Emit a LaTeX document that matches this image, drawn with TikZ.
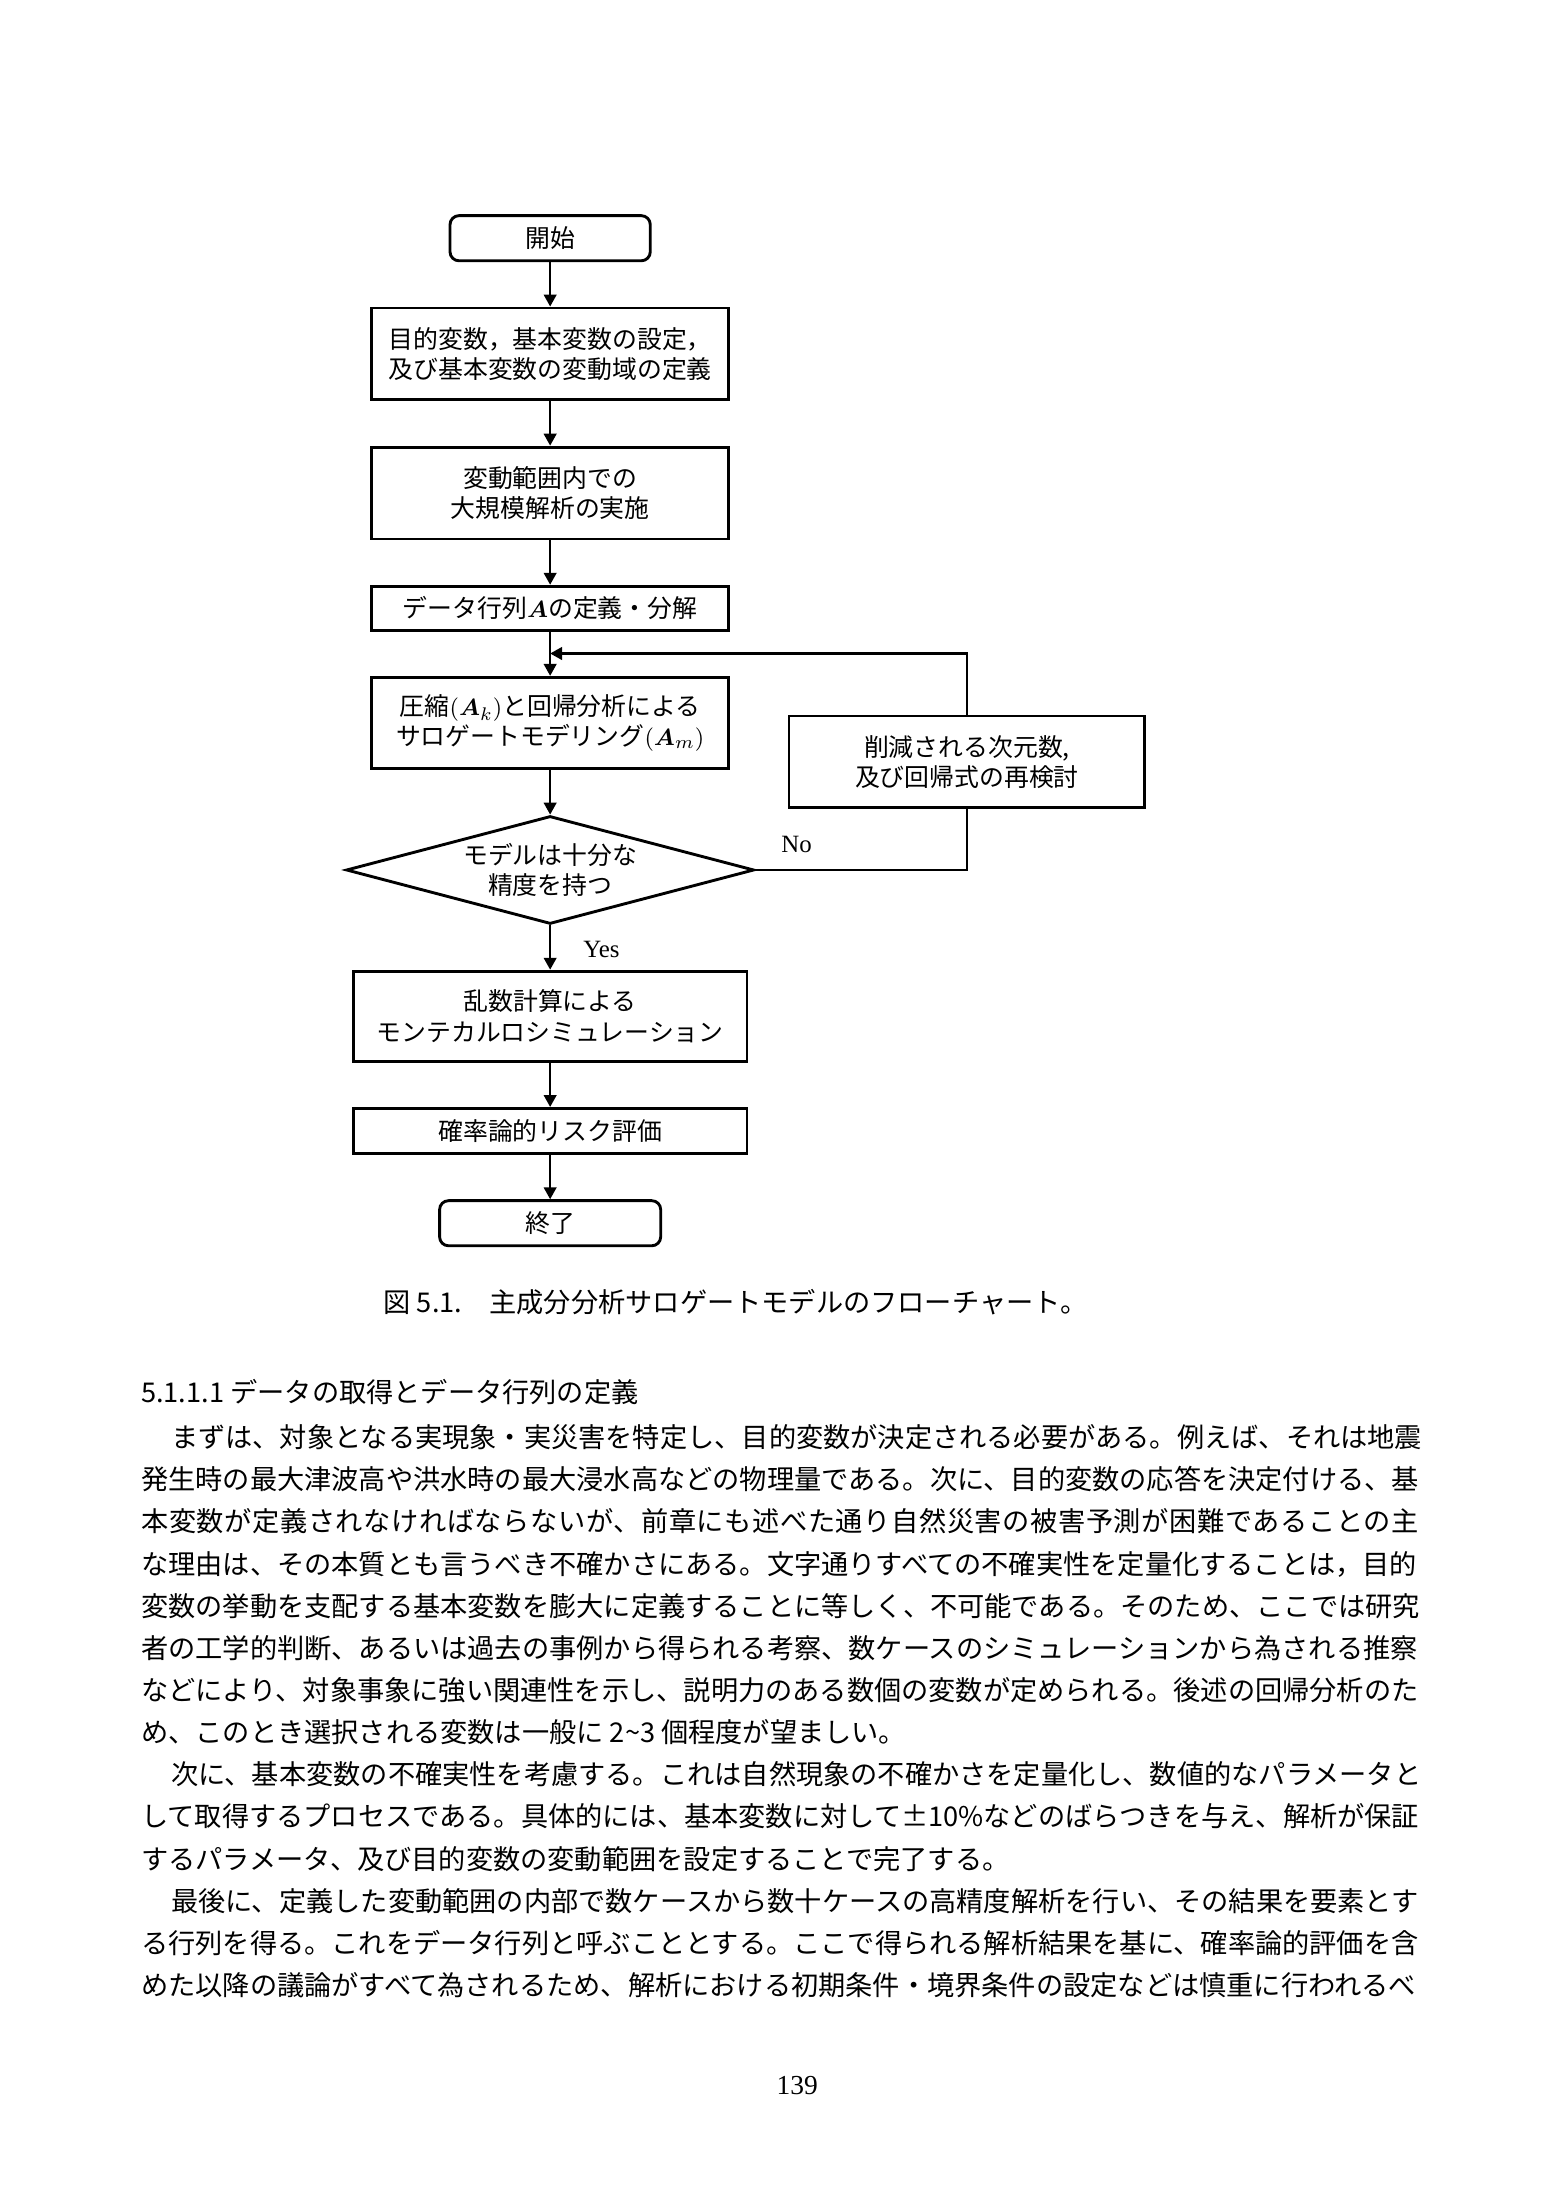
\documentclass[tikz,border=0pt]{standalone}
\usepackage{amsmath}
\usepackage{fontspec}
\setmainfont{Noto Sans CJK JP}
\newfontfamily\serifnum{Liberation Serif}
\usetikzlibrary{positioning,arrows.meta,shapes.geometric}

\newcommand\bodysize{\fontsize{10.4pt}{12pt}\selectfont}
\newcommand\boxsize{\fontsize{9.5pt}{11.5pt}\selectfont}
\newcommand\lblsize{\fontsize{9.5pt}{11pt}\selectfont\serifnum}
\newlength\linew
\setlength\linew{172.1mm}
\newcommand\fullline[1]{\makebox[\linew][l]{#1}}

\begin{document}
\begin{tikzpicture}[
  base/.style={draw, line width=1.1pt, align=center, font=\boxsize, inner sep=0pt},
  term/.style={base, rounded corners=1.2mm, minimum width=26.9mm, minimum height=6.06mm},
  proc/.style={base, minimum width=48.0mm, minimum height=12.35mm},
  wide/.style={base, minimum width=52.9mm, minimum height=12.1mm},
  dec/.style={base, diamond, aspect=3.78, minimum width=54.8mm, minimum height=14.5mm},
  arr/.style={-{Triangle[length=1.6mm,width=1.7mm]}, line width=0.8pt},
  conn/.style={line width=0.8pt},
  lbl/.style={font=\lblsize, inner sep=0pt},
  txt/.style={anchor=west, inner sep=0pt, font=\bodysize, text height=3.2mm, text depth=0.45mm},
  node distance=5.95mm
]
\path[fill=white, use as bounding box] (0,0) rectangle (210mm,-297mm);

% flowchart
\node[term] (start) at (73.9mm,-32.0mm) {開始};
\node[proc, below=of start] (def) {目的変数，基本変数の設定，\\及び基本変数の変動域の定義};
\node[proc, below=of def] (exec) {変動範囲内での\\大規模解析の実施};
\node[proc, minimum height=5.9mm, below=of exec] (data) {データ行列$\boldsymbol{A}$の定義・分解};
\node[proc, minimum height=12.3mm, below=of data] (surr)
  {圧縮$(\boldsymbol{A}_k)$と回帰分析による\\サロゲートモデリング$(\boldsymbol{A}_m)$};
\node[dec, below=of surr] (chk) {モデルは十分な\\精度を持つ};
\node[wide, below=of chk] (mc) {乱数計算による\\モンテカルロシミュレーション};
\node[wide, minimum height=6.06mm, below=of mc] (risk) {確率論的リスク評価};
\node[term, minimum width=29.7mm, below=of risk] (fin) {終了};
\node[proc, minimum width=47.8mm, minimum height=12.3mm,
      below right=5.2mm and 7.7mm of surr.north east] (rev)
  {削減される次元数,\\及び回帰式の再検討};
\coordinate[below=2.95mm of data] (mrg);

\draw[arr] (start) -- (def);
\draw[arr] (def) -- (exec);
\draw[arr] (exec) -- (data);
\draw[arr] (data) -- (surr);
\draw[arr] (surr) -- (chk);
\draw[arr] (chk) -- (mc);
\draw[arr] (mc) -- (risk);
\draw[arr] (risk) -- (fin);
\draw[conn] (chk.east) -| (rev.south);
\draw[arr] (rev.north) |- (mrg);
\node[lbl, above right=2.2mm and 3.4mm of chk.east] (no) {No};
\node[lbl, below right=2.0mm and 4.4mm of chk.south] (yes) {Yes};

\node[font=\bodysize, inner sep=0pt] (cap) at (98.8mm,-174.9mm)
  {図 5.1.\quad 主成分分析サロゲートモデルのフローチャート。};

% body text
\node[txt] (head) at (18.9mm,-187.0mm) {5.1.1.1 データの取得とデータ行列の定義};
\node[txt] (l1) at (18.9mm,-193.07mm)
  {\fullline{\hspace*{1.1em}まずは、対象となる実現象・実災害を特定し、目的変数が決定される必要がある。例えば、それは地震}};
\node[txt] (l2) at (18.9mm,-198.73mm)
  {\fullline{発生時の最大津波高や洪水時の最大浸水高などの物理量である。次に、目的変数の応答を決定付ける、基}};
\node[txt] (l3) at (18.9mm,-204.40mm)
  {\fullline{\addfontfeature{LetterSpace=2.2}本変数が定義されなければならないが、前章にも述べた通り自然災害の被害予測が困難であることの主}};
\node[txt] (l4) at (18.9mm,-210.06mm)
  {\fullline{な理由は、その本質とも言うべき不確かさにある。文字通りすべての不確実性を定量化することは，目的}};
\node[txt] (l5) at (18.9mm,-215.72mm)
  {\fullline{変数の挙動を支配する基本変数を膨大に定義することに等しく、不可能である。そのため、ここでは研究}};
\node[txt] (l6) at (18.9mm,-221.39mm)
  {\fullline{者の工学的判断、あるいは過去の事例から得られる考察、数ケースのシミュレーションから為される推察}};
\node[txt] (l7) at (18.9mm,-227.05mm)
  {\fullline{などにより、対象事象に強い関連性を示し、説明力のある数個の変数が定められる。後述の回帰分析のた}};
\node[txt] (l8) at (18.9mm,-232.71mm)
  {め、このとき選択される変数は一般に 2{\char`\~}3 個程度が望ましい。};
\node[txt] (l9) at (18.9mm,-238.37mm)
  {\fullline{\hspace*{1.1em}次に、基本変数の不確実性を考慮する。これは自然現象の不確かさを定量化し、数値的なパラメータと}};
\node[txt] (l10) at (18.9mm,-244.04mm)
  {\fullline{して取得するプロセスである。具体的には、基本変数に対して±10\%などのばらつきを与え、解析が保証}};
\node[txt] (l11) at (18.9mm,-249.70mm)
  {するパラメータ、及び目的変数の変動範囲を設定することで完了する。};
\node[txt] (l12) at (18.9mm,-255.36mm)
  {\fullline{\hspace*{1.1em}最後に、定義した変動範囲の内部で数ケースから数十ケースの高精度解析を行い、その結果を要素とす}};
\node[txt] (l13) at (18.9mm,-261.03mm)
  {\fullline{る行列を得る。これをデータ行列と呼ぶこととする。ここで得られる解析結果を基に、確率論的評価を含}};
\node[txt] (l14) at (18.9mm,-266.69mm)
  {\fullline{めた以降の議論がすべて為されるため、解析における初期条件・境界条件の設定などは慎重に行われるべ}};

\node[font=\fontsize{10.5pt}{12pt}\selectfont\serifnum, inner sep=0pt] (pnum) at (107.1mm,-280.1mm) {139};
\end{tikzpicture}
\end{document}
